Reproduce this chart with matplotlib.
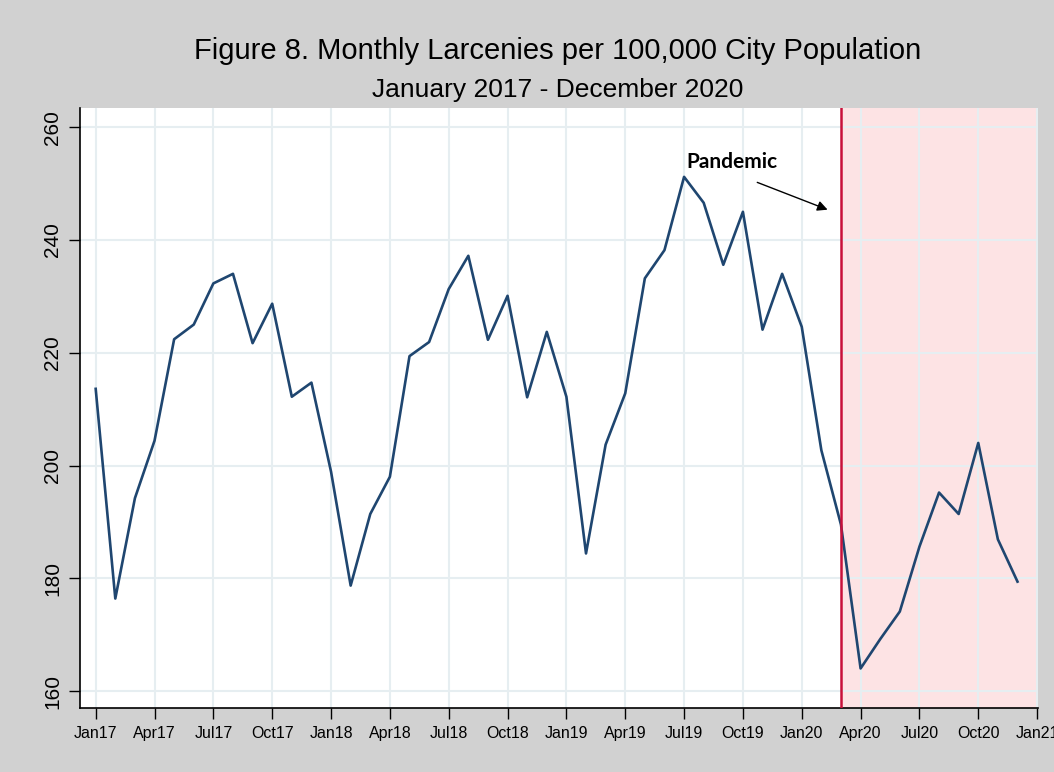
import matplotlib
matplotlib.use("Agg")
import matplotlib.pyplot as plt

months = list(range(48))
larcenies = [213.6, 176.4, 194.2, 204.4, 222.4, 225.0, 232.3, 234.0, 221.7, 228.7, 212.2, 214.7,
             198.9, 178.7, 191.4, 198.0, 219.4, 221.9, 231.3, 237.2, 222.3, 230.1, 212.1, 223.7,
             212.2, 184.4, 203.7, 212.8, 233.2, 238.2, 251.2, 246.6, 235.6, 245.0, 224.1, 234.0,
             224.6, 202.7, 189.5, 164.0, 169.2, 174.1, 185.6, 195.2, 191.4, 204.0, 186.9, 179.4]
tick_pos = list(range(0, 49, 3))
tick_labels = ["Jan17", "Apr17", "Jul17", "Oct17", "Jan18", "Apr18", "Jul18", "Oct18",
               "Jan19", "Apr19", "Jul19", "Oct19", "Jan20", "Apr20", "Jul20", "Oct20", "Jan21"]
y_ticks = [160, 180, 200, 220, 240, 260]
pandemic_month = 38

BG = "#d1d1d1"
fig = plt.figure(figsize=(10.54, 7.72), dpi=100, facecolor=BG)
ax = fig.add_axes([0.0759, 0.083, 0.909, 0.777])
ax.set_facecolor("white")

ax.axvspan(pandemic_month, 48.05, color="#fde3e4", zorder=0, lw=0)
for t in tick_pos:
    ax.axvline(t, color="#e6eef1", lw=1.5, zorder=1)
for t in y_ticks:
    ax.axhline(t, color="#e6eef1", lw=1.5, zorder=1)

ax.plot(months, larcenies, color="#1f4670", lw=1.9, zorder=3)
ax.axvline(pandemic_month, color="#c8103a", lw=1.8, zorder=4)

ax.set_xlim(-0.8, 48.05)
ax.set_ylim(157.0, 263.4)
ax.set_xticks(tick_pos)
ax.set_xticklabels(tick_labels, fontfamily="Liberation Sans", fontsize=11.5)
ax.set_yticks(y_ticks)
ax.set_yticklabels([str(v) for v in y_ticks], rotation=90, va="center",
                   fontfamily="Liberation Sans", fontsize=15)
ax.tick_params(axis="both", direction="out", length=8, width=1, color="black")
ax.tick_params(axis="x", pad=5)
ax.tick_params(axis="y", pad=5)
for s in ["top", "right"]:
    ax.spines[s].set_visible(False)
for s in ["left", "bottom"]:
    ax.spines[s].set_linewidth(1.2)

ax.text(30.1, 253.9, "Pandemic", fontfamily="Lato", fontweight="bold", fontsize=15,
        ha="left", va="center", zorder=5)
ax.annotate("", xy=(37.45, 245.2), xytext=(33.6, 250.4),
            arrowprops=dict(arrowstyle="-|>", color="black", lw=1, mutation_scale=15), zorder=5)

fig.text(0.529, 0.934, "Figure 8. Monthly Larcenies per 100,000 City Population",
         ha="center", va="center", fontfamily="Liberation Sans", fontsize=21)
fig.text(0.529, 0.883, "January 2017 - December 2020",
         ha="center", va="center", fontfamily="Liberation Sans", fontsize=19)

fig.savefig("out.png", dpi=100, facecolor=BG)
